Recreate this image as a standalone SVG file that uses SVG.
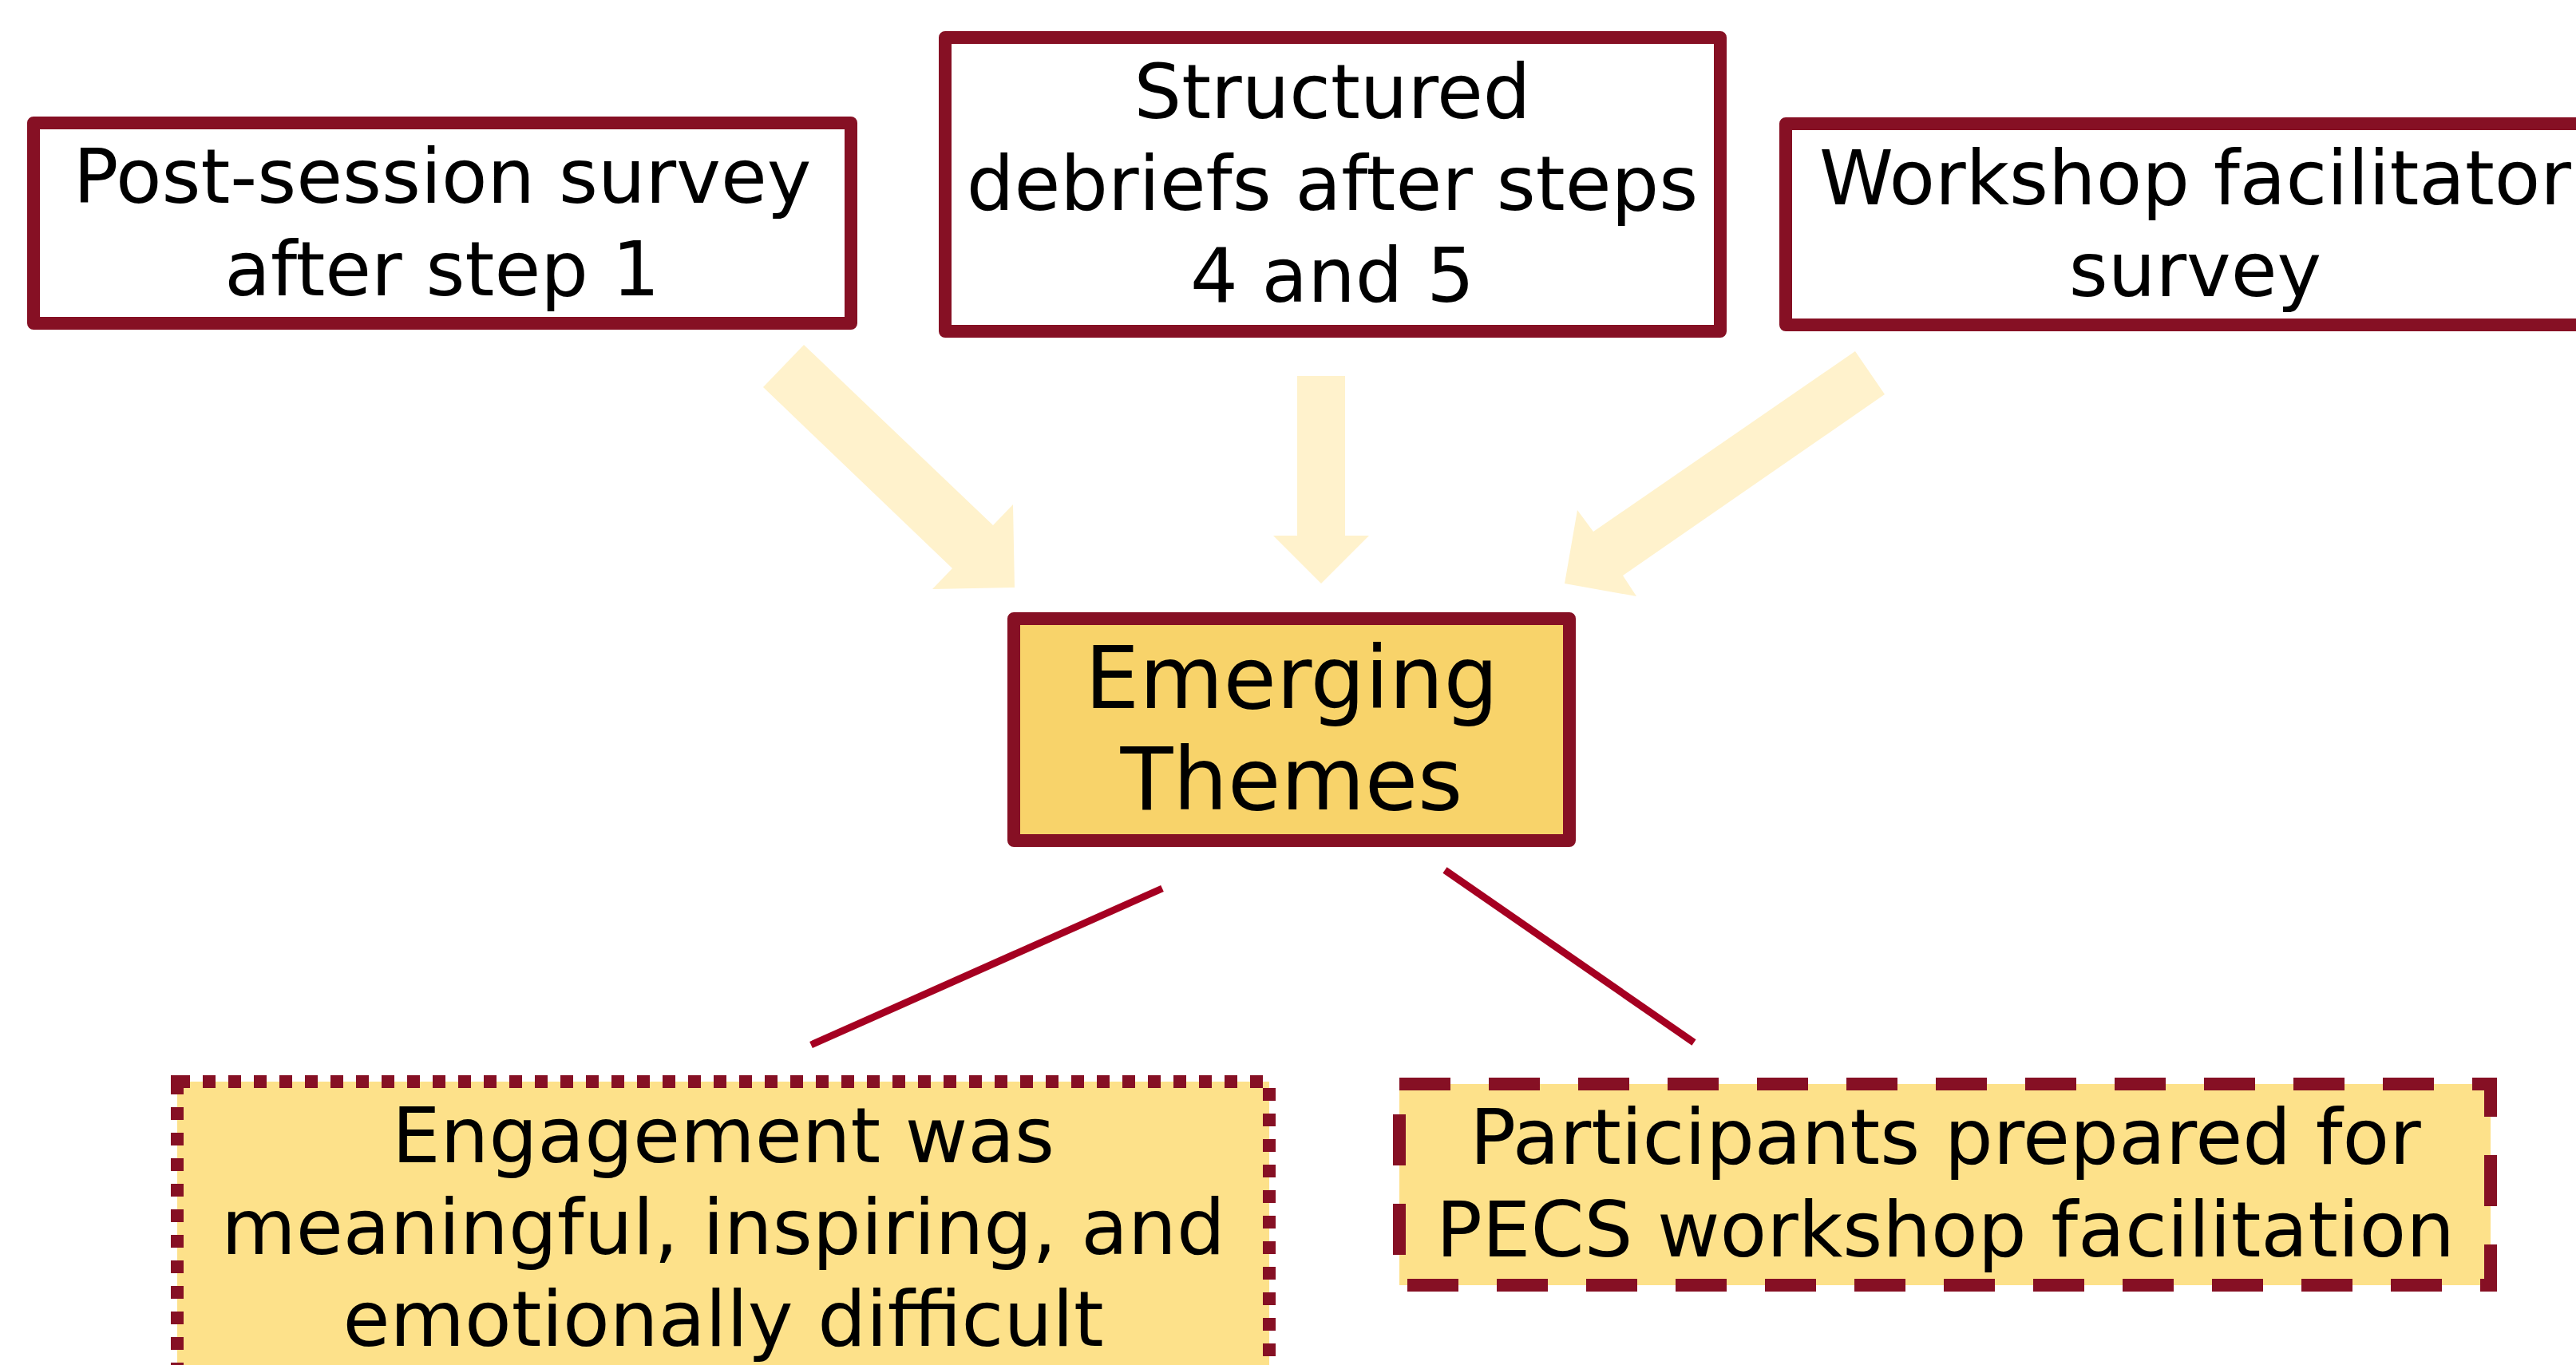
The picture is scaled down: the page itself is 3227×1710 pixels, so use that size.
<svg xmlns="http://www.w3.org/2000/svg" width="3227" height="1710" viewBox="0 0 3227 1710">
  <style>
    .box { stroke: #861024; stroke-width: 16; stroke-linejoin: round; }
    .src { fill: #FFFFFF; }
    .hub { fill: #F8D36A; }
    .theme { fill: #FDE18A; }
    .dotted { stroke-dasharray: 16 16; stroke-linejoin: miter; }
    .dashed { stroke-dasharray: 64 48; stroke-linejoin: miter; }
    .arrow { fill: #FFF2CC; stroke: none; }
    .conn { stroke: #A50021; stroke-width: 9; fill: none; }
    text { font-family: "DejaVu Sans", "Liberation Sans", sans-serif; fill: #000000; text-anchor: middle; }
    .t94 { font-size: 94px; }
    .t96 { font-size: 96px; }
    .t108 { font-size: 108px; }
  </style>
  <rect width="3227" height="1710" fill="#FFFFFF"/>

  <g id="arrows">
    <polygon id="arrow-left" class="arrow" points="1007,432 1244,658 1269,632 1271,736 1168,738 1193,712 956,485"/>
    <polygon id="arrow-mid" class="arrow" points="1625,471 1685,471 1685,671 1715,671 1655,731 1595,671 1625,671"/>
    <polygon id="arrow-right" class="arrow" points="2324,440 2361,494 2033,721 2050,747 1960,731 1976,639 1996,666"/>
  </g>

  <g id="connectors">
    <line class="conn" x1="1456" y1="1113" x2="1016" y2="1309"/>
    <line class="conn" x1="1810" y1="1090" x2="2122" y2="1306"/>
  </g>

  <g id="node-post-session">
    <rect class="box src" x="42" y="154" width="1024" height="251"/>
    <text class="t94" x="554" y="254">Post-session survey</text>
    <text class="t94" x="554" y="370">after step 1</text>
  </g>

  <g id="node-debriefs">
    <rect class="box src" x="1184" y="47" width="971" height="368"/>
    <text class="t94" x="1669" y="148">Structured</text>
    <text class="t94" x="1669" y="263">debriefs after steps</text>
    <text class="t94" x="1669" y="378">4 and 5</text>
  </g>

  <g id="node-facilitator-survey">
    <rect class="box src" x="2237" y="155" width="1026" height="252"/>
    <text class="t94" x="2750" y="256">Workshop facilitator</text>
    <text class="t94" x="2750" y="371">survey</text>
  </g>

  <g id="node-emerging-themes">
    <rect class="box hub" x="1270" y="775" width="696" height="278"/>
    <text class="t108" x="1618" y="887">Emerging</text>
    <text class="t108" x="1618" y="1014">Themes</text>
  </g>

  <g id="node-engagement">
    <rect class="box theme dotted" x="222" y="1355" width="1368" height="400"/>
    <text class="t96" x="906" y="1456">Engagement was</text>
    <text class="t96" x="906" y="1571">meaningful, inspiring, and</text>
    <text class="t96" x="906" y="1686">emotionally difficult</text>
  </g>

  <g id="node-participants">
    <rect class="box theme dashed" x="1753" y="1358" width="1367" height="252"/>
    <text class="t96" x="2437" y="1458">Participants prepared for</text>
    <text class="t96" x="2437" y="1574">PECS workshop facilitation</text>
  </g>
</svg>
